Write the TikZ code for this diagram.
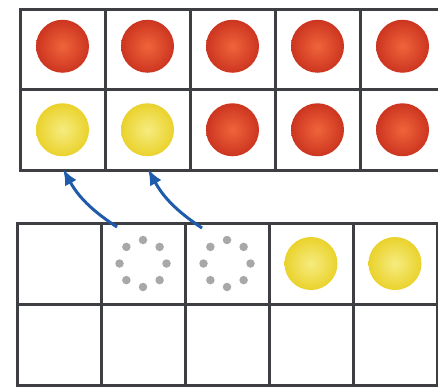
\documentclass[tikz,border=0pt]{standalone}
\usetikzlibrary{arrows.meta}
\definecolor{framegray}{HTML}{3E3F43}
\definecolor{redin}{HTML}{F0643A}
\definecolor{redout}{HTML}{CC3520}
\definecolor{yelin}{HTML}{F6EC80}
\definecolor{yelout}{HTML}{EAD22C}
\definecolor{arrowblue}{HTML}{1E5BAA}
\definecolor{dotgray}{HTML}{A8A8A8}
\begin{document}
\begin{tikzpicture}[x=1pt,y=-1pt,
  topcell/.style={draw=framegray,line width=3pt,minimum width=85pt,minimum height=80.5pt,inner sep=0pt,outer sep=0pt},
  botcell/.style={draw=framegray,line width=3pt,minimum width=84pt,minimum height=81pt,inner sep=0pt,outer sep=0pt},
  ball/.style={circle,minimum size=53pt,inner sep=0pt},
  redball/.style={ball,shade,inner color=redin,outer color=redout},
  yelball/.style={ball,shade,inner color=yelin,outer color=yelout},
  gapdot/.style={circle,fill=dotgray,minimum size=8.5pt,inner sep=0pt},
  move/.style={draw=arrowblue,line width=3pt,-{Latex[length=16pt,width=13pt]}}]
\useasboundingbox (0,0) rectangle (438,388);
\clip (0,0) rectangle (438,388);
\fill[white] (0,0) rectangle (438,388);
% top ten-frame
\foreach \c in {1,...,5}{
  \node[topcell] (t1\c) at ({62.5+85*(\c-1)},49.25) {};
  \node[topcell] (t2\c) at ({62.5+85*(\c-1)},129.75) {};
}
% bottom ten-frame
\foreach \c in {1,...,5}{
  \node[botcell] (b1\c) at ({59+84*(\c-1)},263.5) {};
  \node[botcell] (b2\c) at ({59+84*(\c-1)},344.5) {};
}
% counters in top frame
\foreach \c in {1,...,5}{
  \node[redball] (r1\c) at ([yshift=3pt]t1\c.center) {};
}
\node[yelball] (y21) at (t21.center) {};
\node[yelball] (y22) at (t22.center) {};
\foreach \c in {3,4,5}{
  \node[redball] (r2\c) at (t2\c.center) {};
}
% counters in bottom frame
\node[yelball] (y14) at (b14.center) {};
\node[yelball] (y15) at (b15.center) {};
% empty places (dotted circles)
\foreach \c in {2,3}{
  \foreach \a [count=\i] in {0,45,...,315}{
    \node[gapdot] (g\c\i) at ([shift={(\a:23.5)}]b1\c.center) {};
  }
}
% arrows
\coordinate (s1) at (117,227);
\coordinate (e1) at (63,169);
\coordinate (s2) at (202,228);
\coordinate (e2) at (148,169);
\draw[move] (s1) to[bend left=14] (e1);
\draw[move] (s2) to[bend left=14] (e2);
\end{tikzpicture}
\end{document}
